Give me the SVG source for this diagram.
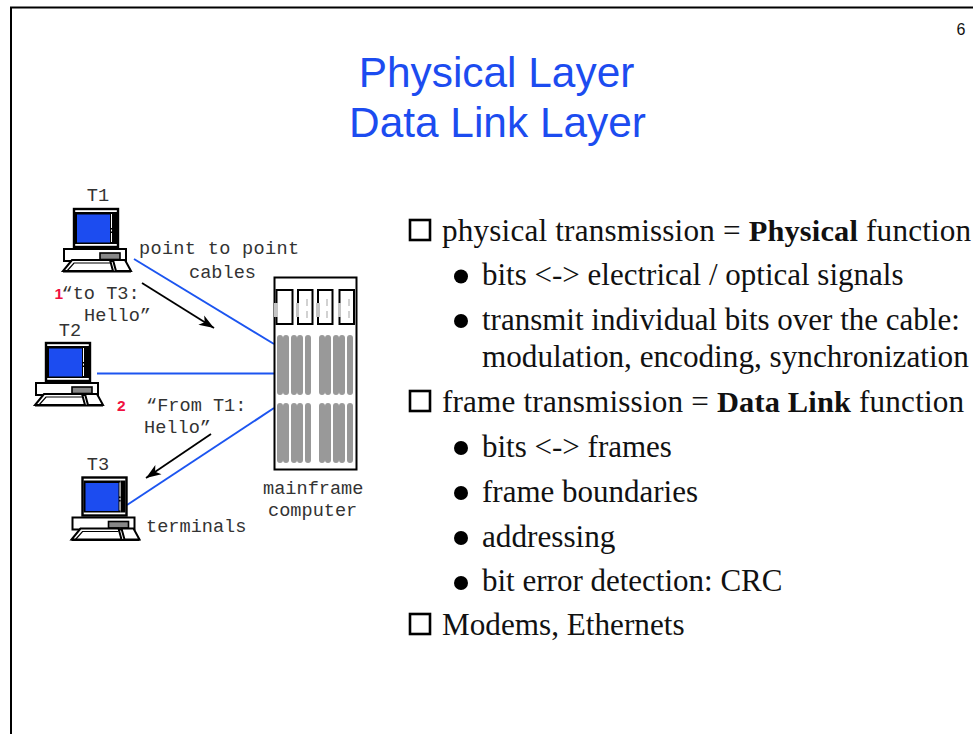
<svg xmlns="http://www.w3.org/2000/svg" width="973" height="734" viewBox="0 0 973 734">
<style>
.title{font-family:"Liberation Sans",Arial,sans-serif;font-size:42.4px;fill:#1c4cf0;text-anchor:middle}
.mono{font-family:"Liberation Mono","Courier New",monospace;font-size:18.6px;fill:#333}
.body{font-family:"Liberation Serif","Times New Roman",serif;font-size:31.2px;fill:#111}
.sub{font-size:31px}
.wide{letter-spacing:.17px}
.boldt{font-weight:bold;font-size:30.4px}
.red{font-family:"Liberation Sans",Arial,sans-serif;font-size:15.5px;font-weight:bold;fill:#f01040}
.cable{stroke:#1c55f0;stroke-width:2;fill:none}
.msg{stroke:#000;stroke-width:1.8;fill:none;marker-end:url(#arr)}
.box{fill:none;stroke:#000;stroke-width:2.6}
.bul{fill:#000}
.slot{fill:#999}
.card{fill:#fff;stroke:#000;stroke-width:2}
.lt{fill:#c4c4c4}
</style>
<defs>
<marker id="arr" markerUnits="userSpaceOnUse" markerWidth="20" markerHeight="14" refX="15" refY="6" orient="auto"><path d="M0,0.500 L15,6 L0,11.500 L4,6 Z" fill="#000"/></marker>
<g id="term">
<rect x="74" y="209" width="44" height="38" fill="#fff" stroke="#000" stroke-width="2.4"/>
<rect x="75" y="212" width="37" height="32" fill="#000"/>
<rect x="77" y="214.500" width="33" height="28" fill="#1c4cf0"/>
<rect x="112" y="212" width="5" height="32" fill="#000"/>
<path d="M111.500,214V242" stroke="#fff" stroke-width="1" stroke-dasharray="14 1.500 2 1.500"/>
<path d="M64,249H126V261H64Z" fill="#fff" stroke="#000" stroke-width="2"/>
<rect x="100" y="253" width="20" height="6.500" fill="#888" stroke="#000" stroke-width="1.600"/>
<path d="M72,260H110L113,271H63Z M113,260H125L131,271H116Z" fill="#fff" stroke="#000" stroke-width="2"/>
<path d="M63,271.500H131" stroke="#000" stroke-width="2"/>
<path d="M67,271L74,263H110" stroke="#000" stroke-width="1.200" fill="none"/>
</g>
<g id="slots"><rect x="0" width="6" height="60" rx="3"/><rect x="6" width="6" height="60" rx="3"/><rect x="14" width="6" height="60" rx="3"/><rect x="20" width="6" height="60" rx="3"/><rect x="28" width="6" height="60" rx="3"/></g>
</defs>
<rect width="973" height="734" fill="#fff"/>
<path d="M973,7.500H11V734" fill="none" stroke="#000" stroke-width="2"/>
<text x="961" y="35" font-family="Liberation Sans,Arial,sans-serif" font-size="16" text-anchor="middle" fill="#111">6</text>
<g id="title"><text class="title" x="496.500" y="87">Physical Layer</text><text class="title" x="497.500" y="137">Data Link Layer</text></g>
<g id="connectors">
<path class="cable" d="M134,259L274,344"/>
<path class="cable" d="M97,373.500H274"/>
<path class="cable" d="M127,505L274,408"/>
<path class="msg" d="M142,283L214,328"/>
<path class="msg" d="M211,434L146,478"/>
</g>
<g id="T1"><use href="#term"/><text class="mono" x="98" y="201" text-anchor="middle">T1</text></g>
<g id="T2"><use href="#term" x="-28" y="134"/><text class="mono" x="70" y="336" text-anchor="middle">T2</text></g>
<g id="T3"><use href="#term" x="8.500" y="268.500"/><text class="mono" x="98" y="470" text-anchor="middle">T3</text></g>
<g id="mainframe">
<rect x="274.500" y="277.500" width="82" height="192" fill="#fff" stroke="#000" stroke-width="2"/>
<rect class="card" x="276.500" y="290" width="16" height="34"/><rect class="card" x="298" y="290" width="14.500" height="34"/><rect class="card" x="318" y="290" width="14.500" height="34"/><rect class="card" x="339.500" y="290" width="14.500" height="34"/>
<rect class="lt" x="274" y="303" width="4" height="14"/><rect class="lt" x="296" y="303" width="3" height="14"/><rect class="lt" x="316" y="303" width="4" height="14"/><rect class="lt" x="338" y="303" width="3" height="14"/>
<path d="M307,299v7M307,311v7M327,299v7M327,311v7M349,299v7M349,311v7" stroke="#c4c4c4" stroke-width="1.500"/>
<use class="slot" href="#slots" x="277" y="335"/><use class="slot" href="#slots" x="319" y="335"/>
<use class="slot" href="#slots" x="277" y="403"/><use class="slot" href="#slots" x="319" y="403"/>
</g>
<g id="labels">
<text class="mono" x="139" y="254" letter-spacing=".3">point to point</text>
<text class="mono" x="189" y="278">cables</text>
<text class="red" x="54.500" y="299">1</text>
<text class="mono" x="61.500" y="299">“to T3:</text>
<text class="mono" x="84" y="321">Hello”</text>
<text class="red" x="117" y="411">2</text>
<text class="mono" x="146" y="411">“From T1:</text>
<text class="mono" x="144" y="433">Hello”</text>
<text class="mono" x="146" y="532">terminals</text>
<text class="mono" x="263" y="494">mainframe</text>
<text class="mono" x="268" y="516">computer</text>
</g>
<g id="bullets">
<rect class="box" x="410" y="220" width="20" height="20"/>
<rect class="box" x="410" y="391" width="20" height="20"/>
<rect class="box" x="410" y="614" width="20" height="20"/>
<circle class="bul" cx="461" cy="276.500" r="7"/><circle class="bul" cx="461" cy="321" r="7"/>
<circle class="bul" cx="461" cy="448" r="7"/><circle class="bul" cx="461" cy="493" r="7"/><circle class="bul" cx="461" cy="538" r="7"/><circle class="bul" cx="461" cy="583" r="7"/>
<text class="body wide" x="442" y="241">physical transmission = <tspan class="boldt">Physical</tspan> function</text>
<text class="body sub" x="482" y="285">bits &lt;-&gt; electrical / optical signals</text>
<text class="body sub" x="482" y="330">transmit individual bits over the cable:</text>
<text class="body" x="482" y="367">modulation, encoding, synchronization</text>
<text class="body wide" x="442" y="412">frame transmission = <tspan class="boldt">Data Link</tspan> function</text>
<text class="body sub" x="482" y="457">bits &lt;-&gt; frames</text>
<text class="body sub" x="482" y="502">frame boundaries</text>
<text class="body" x="482" y="547">addressing</text>
<text class="body sub" x="482" y="591">bit error detection: CRC</text>
<text class="body" x="442" y="635">Modems, Ethernets</text>
</g>
</svg>
